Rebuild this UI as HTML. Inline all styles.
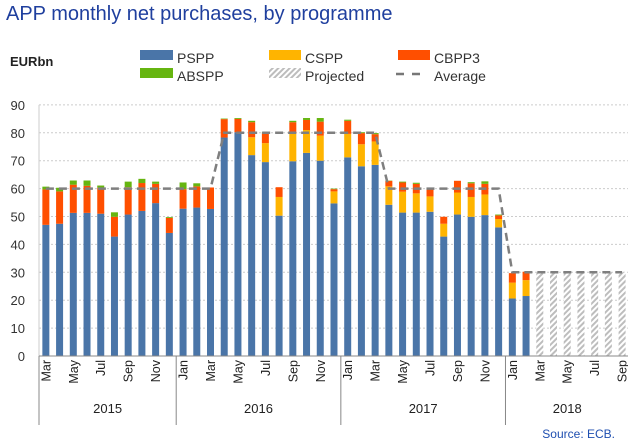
<!DOCTYPE html>
<html><head><meta charset="utf-8"><style>
html,body{margin:0;padding:0;background:#fff;}
svg{display:block;font-family:"Liberation Sans",sans-serif;}
</style></head><body>
<svg id="chart" width="628" height="443" viewBox="0 0 628 443">
<defs>
<pattern id="hatch" width="4" height="4" patternUnits="userSpaceOnUse" patternTransform="rotate(45)">
<rect width="4" height="4" fill="#fff"/><rect width="2" height="4" fill="#bdbdbd"/>
</pattern>
</defs>
<text x="6" y="20" font-size="20" fill="#1f3f9e">APP monthly net purchases, by programme</text>
<text x="10" y="66" font-size="13" font-weight="bold" fill="#222">EURbn</text>
<g font-size="14" fill="#333">
<rect x="140" y="50" width="33" height="10" fill="#4a75a8"/>
<text x="177" y="63">PSPP</text>
<rect x="269" y="50" width="32" height="10" fill="#ffb400"/>
<text x="305" y="63">CSPP</text>
<rect x="398" y="50" width="32" height="10" fill="#ff4f00"/>
<text x="434" y="63">CBPP3</text>
<rect x="140" y="68" width="33" height="10" fill="#66b510"/>
<text x="177" y="81">ABSPP</text>
<rect x="269" y="68" width="32" height="10" fill="url(#hatch)"/>
<text x="305" y="81">Projected</text>
<line x1="396" y1="74" x2="424" y2="74" stroke="#777" stroke-width="2.5" stroke-dasharray="8,8"/>
<text x="434" y="81">Average</text>
</g>
<g id="plot"></g>
<text x="615" y="438" font-size="12" fill="#1f4fb0" text-anchor="end">Source: ECB.</text>
</svg>
<script>
const months = ["Mar","Apr","May","Jun","Jul","Aug","Sep","Oct","Nov","Dec",
"Jan","Feb","Mar","Apr","May","Jun","Jul","Aug","Sep","Oct","Nov","Dec",
"Jan","Feb","Mar","Apr","May","Jun","Jul","Aug","Sep","Oct","Nov","Dec",
"Jan","Feb","Mar","Apr","May","Jun","Jul","Aug","Sep"];
const years = ["2015","2016","2017","2018"];
const yearStarts = [0,10,22,34];
const pspp = [47,47.4,51.3,51.3,51,42.8,50.7,52,54.8,44.1,
52.8,53.2,52.7,78.3,80.2,72,69.5,50.3,69.8,72.8,70,54.7,
71.2,68,68.5,54.2,51.4,51.4,51.7,42.8,50.7,49.9,50.5,46.1,
20.6,21.5,0,0,0,0,0,0,0];
const cspp = [0,0,0,0,0,0,0,0,0,0,
0,0,0,0,0,6.4,6.8,6.7,9.9,8.2,9,4.3,
8.4,7.9,8.4,6.6,7.5,6.9,5.5,4.6,7.9,7.1,7.4,3,
5.7,5.7,0,0,0,0,0,0,0];
const cbpp3 = [12.7,11.6,10.1,9.7,9.3,7.1,9.8,10,6.9,5.4,
7,7.6,7.7,6.6,4.8,5.4,3.6,3.5,4.1,3.6,5,0.8,
4.7,4,2.6,2,3.3,3.4,2.8,2.5,4.2,4.9,3.8,1.3,
3.4,3,0,0,0,0,0,0,0];
const abspp = [1,1.3,1.5,1.9,0.8,1.6,2,1.5,0.8,0.3,
2.4,1.1,0,0.2,0.3,0.5,0.3,0,0.5,0.7,1.3,0.2,
0.4,0.3,0.4,0.1,0.3,0.4,0.2,0,0,0.4,0.9,0.3,
0,0,0,0,0,0,0,0,0];
const projected = [0,0,0,0,0,0,0,0,0,0,0,0,0,0,0,0,0,0,0,0,0,0,0,0,0,0,0,0,0,0,0,0,0,0,
0,0,30,30,30,30,30,30,30];
const average = [60,60,60,60,60,60,60,60,60,60,60,60,60,
80,80,80,80,80,80,80,80,80,80,80,80,
60,60,60,60,60,60,60,60,60,
30,30,30,30,30,30,30,30,30];
const yTicks = [0,10,20,30,40,50,60,70,80,90];

const NS="http://www.w3.org/2000/svg";
const plot=document.getElementById('plot');
const x0=39, step=13.72, y0=356, pxPer=2.79, bw=7;
const xc=i=>x0+step*(i+0.5);
const yv=v=>y0-v*pxPer;
function mk(tag,attrs,parent){const e=document.createElementNS(NS,tag);for(const k in attrs)e.setAttribute(k,attrs[k]);(parent||plot).appendChild(e);return e;}
const xEnd=x0+step*months.length;
yTicks.forEach(t=>{
  if(t>0){const g=mk('line',{x1:x0,x2:xEnd,y1:yv(t),y2:yv(t),stroke:'#ccc','stroke-dasharray':'2,2'});
  
  }
  const l=mk('text',{x:25,y:yv(t)+5,'font-size':13,'text-anchor':'end',fill:'#333'});l.textContent=t;
  
  
});
const ax=mk('line',{x1:x0,x2:x0,y1:yv(90),y2:y0,stroke:'#ccc'});


const series=[[pspp,'#4a75a8','pspp'],[cspp,'#ffb400','cspp'],[cbpp3,'#ff4f00','cbpp3'],[abspp,'#66b510','abspp']];
months.forEach((m,i)=>{
  let base=0;
  series.forEach(([arr,col,nm])=>{
    const v=arr[i]; if(v>0){
      const r=mk('rect',{x:xc(i)-bw/2,y:yv(base+v),width:bw,height:v*pxPer,fill:col});
      
      
      base+=v;}
  });
  if(projected[i]>0){
    const r=mk('rect',{x:xc(i)-bw/2,y:yv(projected[i]),width:bw,height:projected[i]*pxPer,fill:'url(#hatch)'});
    
    
  }
});
let d='';
average.forEach((v,i)=>{d+=(i?'L':'M')+xc(i).toFixed(1)+','+yv(v).toFixed(1);});
const avg=mk('path',{d:d,fill:'none',stroke:'#7f7f7f','stroke-width':2.5,'stroke-dasharray':'8,5'});


const xa=mk('line',{x1:x0,x2:xEnd,y1:y0,y2:y0,stroke:'#888'});


months.forEach((m,i)=>{
  if(i%2===0){
    const t=mk('text',{x:0,y:0,'font-size':12.5,fill:'#222','text-anchor':'end',transform:'translate('+(xc(i)+4.5)+','+(y0+4)+') rotate(-90)'});
    t.textContent=m;
    
    
  }
});
yearStarts.forEach((s,k)=>{
  const xs=x0+step*s;
  const ln=mk('line',{x1:xs,x2:xs,y1:y0,y2:425,stroke:'#888'});
  
  
  const e=k<yearStarts.length-1?yearStarts[k+1]:months.length;
  const t=mk('text',{x:x0+step*(s+e)/2,y:413,'font-size':13,'text-anchor':'middle',fill:'#222'});
  t.textContent=years[k];
  
  
});
</script>
</body></html>
